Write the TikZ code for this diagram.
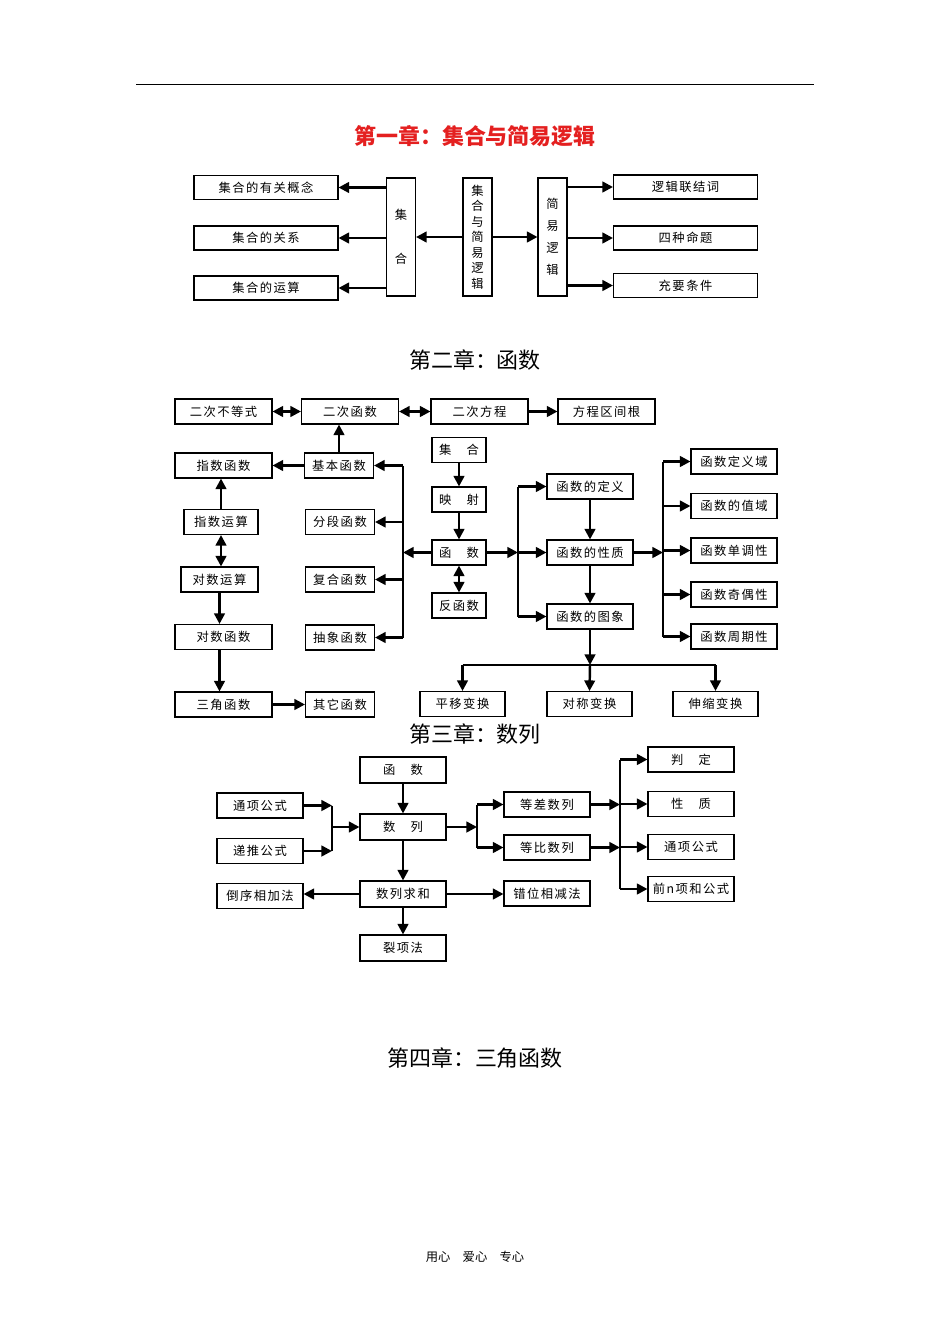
\documentclass[tikz,border=0pt]{standalone}
\usepackage{fontspec}
\setmainfont{Noto Sans CJK SC}
\newfontfamily\boxfont[LetterSpace=12]{Noto Sans CJK SC}
\usetikzlibrary{arrows.meta, positioning}
\definecolor{titlered}{RGB}{228,32,32}

\begin{document}
\begin{tikzpicture}[
	x=0.02cm, y=-0.02cm,
	box/.style={draw, line width=0.6pt, inner sep=0pt, font=\boxfont\fontsize{7}{8}\selectfont, minimum height=0.5cm},
	wbox/.style={box, minimum width=2.88cm, minimum height=0.48cm},
	vbox/.style={draw, line width=0.6pt, inner sep=0pt, align=center, minimum width=0.58cm, minimum height=2.36cm},
	abox/.style={box, minimum width=1.94cm},
	sbox/.style={box, minimum width=1.08cm},
	mbox/.style={box, minimum width=1.38cm},
	rbox/.style={box, minimum width=1.72cm},
	arrow/.style={-{Triangle[length=6pt, width=6pt]}, line width=1.4pt},
	twoway/.style={{Triangle[length=6pt, width=6pt]}-{Triangle[length=6pt, width=6pt]}, line width=1.4pt},
	trunk/.style={line width=1.4pt},
	chapter/.style={font=\fontsize{12.5}{15}\selectfont}
]
\useasboundingbox (0,0) rectangle (950,1344);
\draw[line width=0.5pt] (136,84) -- (814,84);

% chapter 1
\node[chapter, text=titlered, font=\fontsize{12.5}{15}\selectfont\bfseries] (title1) at (475,136) {第一章：集合与简易逻辑};
\node[wbox] (concept) at (266,187.5) {集合的有关概念};
\node[wbox] (relation) at (266,238) {集合的关系};
\node[wbox] (operation) at (266,288) {集合的运算};
\node[vbox, font=\fontsize{7}{25}\selectfont] (setv) at (401,237) {集\\合};
\node[vbox, font=\fontsize{7}{8.8}\selectfont] (mainv) at (477.5,237) {集\\合\\与\\简\\易\\逻\\辑};
\node[vbox, font=\fontsize{7}{12.5}\selectfont] (logicv) at (552.5,237) {简\\易\\逻\\辑};
\node[wbox] (connect) at (685.5,187) {逻辑联结词};
\node[wbox] (fourprop) at (685.5,238) {四种命题};
\node[wbox] (suffnec) at (685.5,285.5) {充要条件};

\draw[arrow] (setv.west |- concept) -- (concept.east);
\draw[arrow] (setv.west |- relation) -- (relation.east);
\draw[arrow] (setv.west |- operation) -- (operation.east);
\draw[arrow] (mainv.west) -- (setv.east);
\draw[arrow] (mainv.east) -- (logicv.west);
\draw[arrow] (logicv.east |- connect) -- (connect.west);
\draw[arrow] (logicv.east |- fourprop) -- (fourprop.west);
\draw[arrow] (logicv.east |- suffnec) -- (suffnec.west);

% chapter 2
\node[chapter] (title2) at (475,360) {第二章：函数};
\node[abox] (ineq) at (223.5,411.5) {二次不等式};
\node[abox] (quad) at (350,411.5) {二次函数};
\node[abox] (equ) at (479.5,411.5) {二次方程};
\node[abox] (root) at (606.5,411.5) {方程区间根};
\node[sbox] (set2) at (459,450) {集　合};
\node[sbox] (map) at (459,499.5) {映　射};
\node[sbox] (func) at (459,552.5) {函　数};
\node[sbox] (inv) at (459,605.5) {反函数};
\node[abox] (expf) at (223.5,465.5) {指数函数};
\node[box, minimum width=1.48cm] (expop) at (221,522) {指数运算};
\node[box, minimum width=1.54cm] (logop) at (219.5,579.5) {对数运算};
\node[abox] (logf) at (223.5,637) {对数函数};
\node[abox] (trig) at (223.5,704.5) {三角函数};
\node[mbox] (basic) at (339,465.5) {基本函数};
\node[mbox] (piece) at (340,522) {分段函数};
\node[mbox] (comp) at (340,579.5) {复合函数};
\node[mbox] (abst) at (340,637.5) {抽象函数};
\node[mbox] (other) at (340,704.5) {其它函数};
\node[rbox] (defn) at (590,486.5) {函数的定义};
\node[rbox] (prop) at (590,552.5) {函数的性质};
\node[rbox] (graph) at (590,616.5) {函数的图象};
\node[rbox] (dom) at (734,461.5) {函数定义域};
\node[rbox] (range) at (734,506) {函数的值域};
\node[rbox] (mono) at (734,550.5) {函数单调性};
\node[rbox] (parity) at (734,594.5) {函数奇偶性};
\node[rbox] (period) at (734,636.5) {函数周期性};
\node[rbox, minimum width=1.7cm] (shift) at (462.5,704) {平移变换};
\node[rbox, minimum width=1.7cm] (sym) at (589.5,704) {对称变换};
\node[rbox, minimum width=1.7cm] (stretch) at (715.5,704) {伸缩变换};
\coordinate (ltrunk) at (403,552.5);
\coordinate (rtrunk) at (518,552.5);
\coordinate (ptrunk) at (663,552.5);
\coordinate (junction) at (590,665);

\draw[twoway] (ineq.east) -- (quad.west);
\draw[twoway] (quad.east) -- (equ.west);
\draw[arrow] (equ.east) -- (root.west);
\draw[arrow] (set2.south) -- (map.north);
\draw[arrow] (map.south) -- (func.north);
\draw[twoway] (func.south) -- (inv.north);
\draw[arrow] (basic.north) -- (basic.north |- quad.south);
\draw[arrow] (basic.west) -- (expf.east);
\draw[arrow] (expop.north) -- (expop.north |- expf.south);
\draw[twoway] (expop.south) -- (expop.south |- logop.north);
\draw[arrow] (logop.south) -- (logop.south |- logf.north);
\draw[arrow] (logop.south |- logf.south) -- (logop.south |- trig.north);
\draw[arrow] (trig.east) -- (other.west);
\draw[arrow] (func.west) -- (ltrunk);
\draw[trunk] (ltrunk |- basic) -- (ltrunk |- abst);
\draw[arrow] (ltrunk |- basic) -- (basic.east);
\draw[arrow] (ltrunk |- piece) -- (piece.east);
\draw[arrow] (ltrunk |- comp) -- (comp.east);
\draw[arrow] (ltrunk |- abst) -- (abst.east);
\draw[arrow] (func.east) -- (rtrunk);
\draw[trunk] (rtrunk |- defn) -- (rtrunk |- graph);
\draw[arrow] (rtrunk |- defn) -- (defn.west);
\draw[arrow] (rtrunk) -- (prop.west);
\draw[arrow] (rtrunk |- graph) -- (graph.west);
\draw[arrow] (defn.south) -- (prop.north);
\draw[arrow] (prop.south) -- (graph.north);
\draw[arrow] (prop.east) -- (ptrunk);
\draw[trunk] (ptrunk |- dom) -- (ptrunk |- period);
\draw[arrow] (ptrunk |- dom) -- (dom.west);
\draw[arrow] (ptrunk |- range) -- (range.west);
\draw[arrow] (ptrunk |- mono) -- (mono.west);
\draw[arrow] (ptrunk |- parity) -- (parity.west);
\draw[arrow] (ptrunk |- period) -- (period.west);
\draw[arrow] (graph.south) -- (junction);
\draw[line width=0.7pt] (shift |- junction) -- (stretch |- junction);
\draw[arrow] (shift |- junction) -- (shift.north);
\draw[arrow] (junction) -- (sym.north);
\draw[arrow] (stretch |- junction) -- (stretch.north);

% chapter 3
\node[chapter] (title3) at (475,734) {第三章：数列};
\node[rbox, minimum height=0.52cm] (func3) at (403,770) {函　数};
\node[rbox, minimum height=0.52cm] (seq) at (403,827) {数　列};
\node[rbox, minimum height=0.52cm] (sum) at (403,894) {数列求和};
\node[rbox, minimum height=0.52cm] (split) at (403,948) {裂项法};
\node[rbox] (gen) at (260,805.5) {通项公式};
\node[rbox] (rec) at (260,851) {递推公式};
\node[rbox] (rev) at (260,896) {倒序相加法};
\node[rbox] (arith) at (547,804.5) {等差数列};
\node[rbox] (geom) at (547,847.5) {等比数列};
\node[rbox] (shiftsub) at (547,893.5) {错位相减法};
\node[rbox] (judge) at (691,759.5) {判　定};
\node[rbox] (prop3) at (691,804) {性　质};
\node[rbox] (term) at (691,847) {通项公式};
\node[rbox] (sumf) at (691,889) {前n项和公式};
\coordinate (lmerge) at (332,827);
\coordinate (rsplit) at (477,827);
\coordinate (strunk) at (620,827);

\draw[arrow] (func3.south) -- (seq.north);
\draw[arrow] (gen.east) -- (lmerge |- gen);
\draw[arrow] (rec.east) -- (lmerge |- rec);
\draw[line width=0.7pt] (lmerge |- gen) -- (lmerge |- rec);
\draw[arrow] (lmerge) -- (seq.west);
\draw[arrow] (seq.east) -- (rsplit);
\draw[line width=0.7pt] (rsplit |- arith) -- (rsplit |- geom);
\draw[arrow] (rsplit |- arith) -- (arith.west);
\draw[arrow] (rsplit |- geom) -- (geom.west);
\draw[arrow] (seq.south) -- (sum.north);
\draw[arrow] (sum.south) -- (split.north);
\draw[arrow] (sum.west) -- (rev.east |- sum.west);
\draw[arrow] (sum.east) -- (shiftsub.west |- sum.east);
\draw[arrow] (arith.east) -- (strunk |- arith);
\draw[arrow] (geom.east) -- (strunk |- geom);
\draw[line width=0.7pt] (strunk |- judge) -- (strunk |- sumf);
\draw[arrow] (strunk |- judge) -- (judge.west);
\draw[arrow] (strunk |- prop3) -- (prop3.west);
\draw[arrow] (strunk |- term) -- (term.west);
\draw[arrow] (strunk |- sumf) -- (sumf.west);

% chapter 4
\node[chapter] (title4) at (475,1058) {第四章：三角函数};
\node[font=\fontsize{7}{8}\selectfont] (footer) at (475,1257) {用心　爱心　专心};
\end{tikzpicture}
\end{document}
